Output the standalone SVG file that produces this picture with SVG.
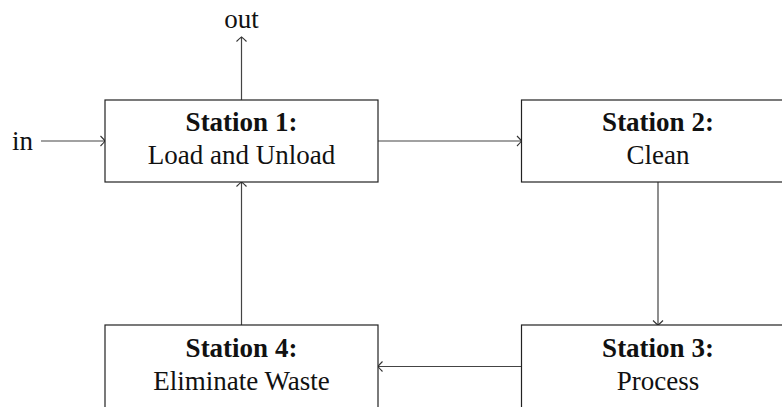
<svg xmlns="http://www.w3.org/2000/svg" width="782" height="407" viewBox="0 0 782 407">
<style>
.box{fill:#fff;stroke:#222;stroke-width:1.2}
.t{font-family:"Liberation Serif","Times New Roman",serif;font-size:27px;fill:#111;text-anchor:middle}
.b{font-weight:bold}
.c{fill:none;stroke:#444;stroke-width:1.2}
</style>
<defs>
<marker id="ar" viewBox="-6 -6 7 12" refX="0" refY="0" markerWidth="7" markerHeight="12" markerUnits="userSpaceOnUse" orient="auto">
<path d="M -4.5 -5 Q -1 -1.5 0 0 Q -1 1.5 -4.5 5" fill="none" stroke="#333" stroke-width="1.1"/>
</marker>
</defs>
<rect width="782" height="407" fill="#fff"/>
<g id="connectors">
<line class="c" x1="41" y1="141" x2="105" y2="141" marker-end="url(#ar)"/>
<line class="c" x1="241.5" y1="100" x2="241.5" y2="37" marker-end="url(#ar)"/>
<line class="c" x1="378" y1="141" x2="521.5" y2="141" marker-end="url(#ar)"/>
<line class="c" x1="658" y1="182" x2="658" y2="325" marker-end="url(#ar)"/>
<line class="c" x1="521.5" y1="366.5" x2="378" y2="366.5" marker-end="url(#ar)"/>
<line class="c" x1="241.5" y1="325" x2="241.5" y2="182" marker-end="url(#ar)"/>
</g>
<g id="in"><text class="t" x="22.5" y="150">in</text></g>
<g id="out"><text class="t" x="241.5" y="28">out</text></g>
<g id="station1">
<rect class="box" x="105" y="100" width="273" height="82"/>
<text class="t b" x="241.5" y="131">Station 1:</text>
<text class="t" x="241.5" y="164">Load and Unload</text>
</g>
<g id="station2">
<rect class="box" x="521.5" y="100" width="273" height="82"/>
<text class="t b" x="658" y="131">Station 2:</text>
<text class="t" x="658" y="164">Clean</text>
</g>
<g id="station3">
<rect class="box" x="521.5" y="325" width="273" height="84"/>
<text class="t b" x="658" y="357">Station 3:</text>
<text class="t" x="658" y="390">Process</text>
</g>
<g id="station4">
<rect class="box" x="105" y="325" width="273" height="84"/>
<text class="t b" x="241.5" y="357">Station 4:</text>
<text class="t" x="241.5" y="390">Eliminate Waste</text>
</g>
</svg>
